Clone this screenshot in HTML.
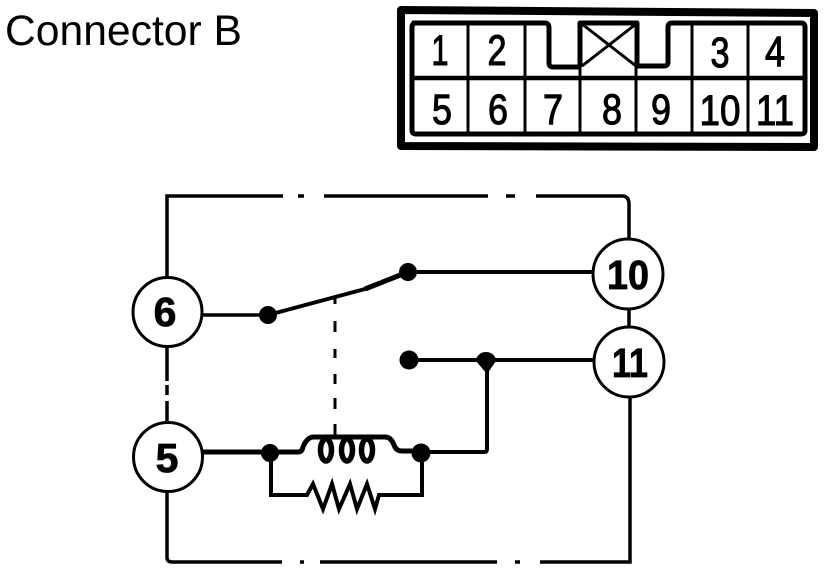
<!DOCTYPE html>
<html>
<head>
<meta charset="utf-8">
<style>
html,body{margin:0;padding:0;background:#fff;width:832px;height:572px;overflow:hidden}
svg{display:block}
text{font-family:"Liberation Sans",sans-serif;fill:#000}
</style>
</head>
<body>
<svg width="832" height="572" viewBox="0 0 832 572" xmlns="http://www.w3.org/2000/svg">
<rect width="832" height="572" fill="#fff"/>
<text x="5" y="45" font-size="43" textLength="237" lengthAdjust="spacingAndGlyphs">Connector B</text>

<g fill="none" stroke="#000" stroke-linejoin="round">
  <path d="M401 10 L814 13 L814 147 L401 146 Z" stroke-width="8"/>
  <path d="M412 23 H545 Q549 23 549 28 V63 Q549 67 553 67 H580 M580 67 V23 H637 V66 H664 Q668 66 668 62 V27 Q668 23 672 23 H801 Q805 23 805 27 V130 Q805 134 801 134 H416 Q412 134 412 130 V27 Q412 23 416 23" stroke-width="5"/>
  <path d="M412 78 H805" stroke-width="4.5"/>
  <path d="M468 23 V134 M525 23 V134 M580 67 V134 M636 67 V134 M692 23 V134 M748 23 V134" stroke-width="3"/>
  <path d="M582 24 L636 66 M636 24 L582 66" stroke-width="3"/>
</g>

<g font-size="43" text-anchor="middle" stroke="#000" stroke-width="1.1">
  <text x="440" y="65" textLength="17" lengthAdjust="spacingAndGlyphs">1</text>
  <text x="497" y="65" textLength="19" lengthAdjust="spacingAndGlyphs">2</text>
  <text x="720" y="67" textLength="19" lengthAdjust="spacingAndGlyphs">3</text>
  <text x="775" y="66" textLength="20" lengthAdjust="spacingAndGlyphs">4</text>
  <text x="442" y="124" textLength="20" lengthAdjust="spacingAndGlyphs">5</text>
  <text x="498" y="124" textLength="20" lengthAdjust="spacingAndGlyphs">6</text>
  <text x="553" y="124" textLength="20" lengthAdjust="spacingAndGlyphs">7</text>
  <text x="612" y="124" textLength="20" lengthAdjust="spacingAndGlyphs">8</text>
  <text x="661" y="124" textLength="20" lengthAdjust="spacingAndGlyphs">9</text>
  <text x="720" y="125" textLength="41" lengthAdjust="spacingAndGlyphs">10</text>
  <text x="775" y="125" textLength="38" lengthAdjust="spacingAndGlyphs">11</text>
</g>

<g fill="none" stroke="#000">
  <path d="M167 277 V196 H283 M298 196 H304 M324 196 H488 M506 196 H515 M536 196 H622 Q629 196 629 204 V238" stroke-width="3.5"/>
  <path d="M167 492 V557 Q167 562 172 562 H282 M300 562 H304 M320 562 H497 M515 562 H520 M540 562 H630 V398" stroke-width="3.5"/>
  <path d="M167 348 V381 M167 385 V395 M167 401 V422" stroke-width="3.5"/>
  <path d="M629 310 V327" stroke-width="3.5"/>
  <path d="M202 315 H268" stroke-width="3.5"/>
  <path d="M268 315 L365 289" stroke-width="4"/>
  <path d="M365 289 L408 272" stroke-width="5"/>
  <path d="M408 272 H592" stroke-width="4"/>
  <path d="M335 298 V304 M335 321 V332 M335 349 V358 M335 374 V384 M335 398 V409 M335 424 V436" stroke-width="3"/>
  <path d="M408 360 H593" stroke-width="4"/>
  <path d="M487 360 V449 Q487 452 484 452 H421" stroke-width="4"/>
  <path d="M203 452 H298 Q302 452 303 447 Q307 437 314 437 H385 Q391 437 394 445 Q396 451 402 451 H421" stroke-width="5"/>
  <g stroke-width="5.5">
    <ellipse cx="326" cy="450" rx="5.5" ry="11"/>
    <ellipse cx="347" cy="450" rx="5.5" ry="11"/>
    <ellipse cx="367" cy="450" rx="5.5" ry="11"/>
  </g>
  <path d="M271 452 V495 H307 L313 484 L323 509 L332 484 L339 509 L350 484 L357 509 L367 484 L375 509 L379 495 H422 V452" stroke-width="4" stroke-linejoin="miter"/>
</g>

<g fill="#000">
  <circle cx="268" cy="315" r="9"/>
  <circle cx="408" cy="272" r="9"/>
  <circle cx="409" cy="360" r="9.5"/>
  <path d="M476 361 A10 9 0 0 1 496 361 L487 374 Z"/>
  <circle cx="270" cy="453" r="9"/>
  <circle cx="421" cy="453" r="9.5"/>
</g>

<g fill="#fff" stroke="#000" stroke-width="3">
  <circle cx="167.5" cy="312" r="34.5"/>
  <circle cx="168" cy="457" r="34.5"/>
  <circle cx="628" cy="274" r="35"/>
  <circle cx="629" cy="362" r="35"/>
</g>

<g font-size="41" font-weight="bold" text-anchor="middle" stroke="#000" stroke-width="0.8">
  <text x="165" y="326">6</text>
  <text x="167" y="472">5</text>
  <text x="628" y="289" textLength="42" lengthAdjust="spacingAndGlyphs">10</text>
  <text x="630" y="377" textLength="36" lengthAdjust="spacingAndGlyphs">11</text>
</g>
</svg>
</body>
</html>
